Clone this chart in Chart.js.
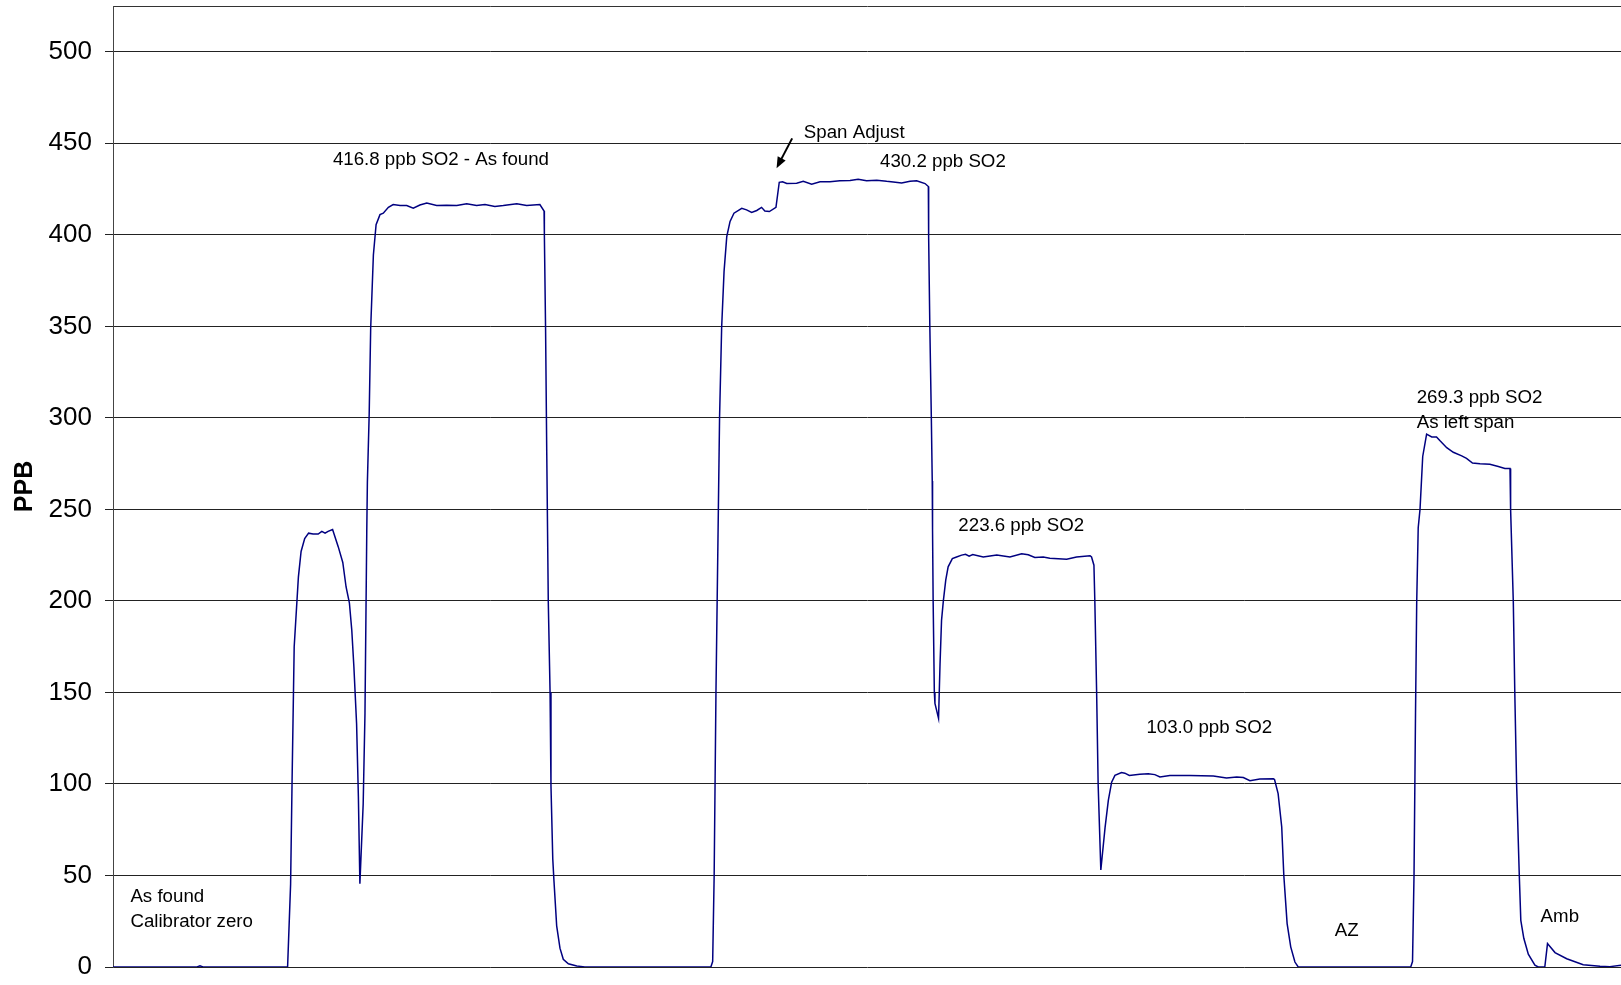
<!DOCTYPE html>
<html>
<head>
<meta charset="utf-8">
<script src="https://cdn.jsdelivr.net/npm/chart.js@4.4.1/dist/chart.umd.min.js"></script>
<style>
  html, body { margin: 0; padding: 0; background: #fff; }
  canvas { display: block; }
</style>
</head>
<body>
<canvas id="so2Chart" width="1621" height="985"></canvas>
<script>
  // time in minutes from start of the calibration run
  const times = [
    0, 28, 29, 30, 58.2,
    59.2, 59.7, 60.4, 61.8, 62.7, 63.9, 65.2, 66.7, 68.4, 69.6, 70.7, 71.7, 73.2, 75.1, 76.6, 77.7, 78.8, 79.6, 80.3, 81.2, 81.8, 82.3,
    83.4, 84.0, 84.6, 84.8, 85.4, 85.9, 86.8, 87.7, 89.0, 90.1, 91.8, 93.4, 95.7, 97.9, 100.1, 102.3, 104.6, 107.9, 111.2, 114.6, 117.9, 121.2, 124, 127.3, 130.1, 134.6, 137.9, 142.3, 143.7,
    143.8, 144.2, 144.6, 145.1, 145.7, 146, 146.6, 147, 147.9, 149, 150.1, 151.8, 154.6, 157.3,
    199.3, 199.9, 200.4, 201, 201.4, 201.8, 202.2, 202.9, 203.7, 204.6, 205.7, 207, 209.6, 211.2, 212.9, 214.6, 216.2, 217.3, 218.8, 221,
    222.1, 223.2, 224.6, 227.9, 230.1, 232.9, 235.7, 239, 242.3, 245.7, 248.4, 251.2, 254.6, 257.9, 260.1, 262.9, 265.7, 267.9, 270.7, 271.8,
    271.9, 272.3, 272.8, 273.1, 273.2, 273.4, 273.8, 274, 275.2,
    275.7, 276.2, 276.8, 277.6, 278.4, 279.8, 281.2, 282.9, 284.2, 285.4, 286.6, 290.1, 294.6, 299, 302.9, 305.1, 307.3, 310.1, 312.3, 317.9, 321.2, 325.7, 326.2, 327,
    327.3, 327.9, 328.4, 329.3,
    330.7, 331.8, 332.9, 334, 336.2, 337.3, 338.8, 342.3, 345.1, 347.3, 349, 352.3, 359, 366.8, 371.2, 374.6, 376.8, 379, 382.3, 386.8, 387.2,
    388.4, 389.6, 390.3, 391.4, 392.6, 394, 395.1,
    432.6, 433.2, 433.7, 434.2, 434.6, 435.1, 435.7, 436.6, 437.9, 439.6, 441.2, 442.3, 444.6, 446.8, 449.6, 451.2, 453.2, 455.7, 459, 461.8, 464, 465.7,
    465.9, 466.8, 467.3, 467.9, 468.8, 469.3, 470.3, 471.8, 474, 475.1, 477.3,
    478.2, 480.7, 484.6, 490.1, 495.7, 499, 502.7
  ];

  const ppb = [
    0, 0, 0.6, 0, 0,
    45, 102, 175, 213, 227, 234, 237, 236.5, 236.5, 238, 237, 238, 239, 229.5, 221, 207.6, 199, 184, 164, 133, 93, 45.5,
    89, 138.6, 238.6, 265, 302, 349, 389, 405.5, 411, 411.8, 415, 416.5, 416, 416, 414.5, 416.3, 417.3, 416, 416.2, 416, 417, 416, 416.5, 415.5, 416, 417, 416, 416.5, 413,
    400, 349, 280, 200, 150, 99, 59, 47, 22.5, 10.3, 4.2, 1.8, 0.6, 0,
    0, 3, 50, 150, 200, 250, 300, 349.5, 380, 399, 407.3, 411.8, 414.5, 413.6, 412.2, 413.3, 415, 413, 412.7, 415,
    428.7, 429, 428, 428.2, 429.3, 427.7, 429, 429, 429.5, 429.7, 430.4, 429.5, 429.8, 429.2, 428.9, 428.3, 429.2, 429.5, 428, 426.4,
    399, 349.5, 299.5, 265.5, 238.6, 200, 150, 144, 135.8,
    165.8, 189.4, 200, 211.3, 218.6, 223.1, 224, 225, 225.5, 224.4, 225.3, 224, 225.1, 224, 225.8, 225.2, 223.7, 224, 223.3, 222.7, 224, 224.7, 224, 219.5,
    200, 150, 100, 53,
    76, 91, 101, 104.7, 106.2, 105.9, 104.6, 105.3, 105.6, 105.1, 103.8, 104.6, 104.6, 104.4, 103.3, 103.8, 103.5, 101.8, 102.7, 102.9, 102.4,
    94.7, 76.5, 50, 23.7, 11, 2.7, 0,
    0, 3, 50, 138.5, 199.5, 240, 250, 278.9, 291.1, 289.6, 289.6, 287.6, 283.7, 281.2, 279.2, 277.9, 275.3, 274.9, 274.6, 273.4, 272.4, 272.4,
    250, 199.5, 149.6, 99.9, 49.8, 25.5, 15.7, 7, 1, 0, 0,
    12.8, 7.9, 4.5, 1.2, 0.4, 0.2, 1.0
  ];

  const yTicks = [0, 50, 100, 150, 200, 250, 300, 350, 400, 450, 500];

  // notes written on the chart: [text, minute, ppb]
  const notes = [
    ['As found', 5.8, 38.2],
    ['Calibrator zero', 5.8, 24.9],
    ['416.8 ppb SO2 - As found', 73.3, 441.1],
    ['Span Adjust', 230.3, 455.8],
    ['430.2 ppb SO2', 255.7, 440],
    ['223.6 ppb SO2', 281.8, 240.9],
    ['103.0 ppb SO2', 344.5, 130.9],
    ['AZ', 407.3, 20],
    ['269.3 ppb SO2', 434.6, 310.9],
    ['As left span', 434.6, 297.3],
    ['Amb', 475.9, 27.3]
  ];
  const arrowFrom = [226.4, 452.7];
  const arrowTo = [221.2, 436.4];

  const notesPlugin = {
    id: 'notes',
    afterDatasetsDraw(chart) {
      const { ctx, scales: { x, y } } = chart;
      ctx.save();
      ctx.fillStyle = '#000';
      ctx.font = '18.7px "Liberation Sans", Arial, sans-serif';
      ctx.textAlign = 'left';
      ctx.textBaseline = 'middle';
      notes.forEach(([txt, t, v]) => {
        ctx.fillText(txt, x.getPixelForValue(t), y.getPixelForValue(v));
      });
      // Span Adjust arrow
      const x1 = x.getPixelForValue(arrowFrom[0]), y1 = y.getPixelForValue(arrowFrom[1]);
      const x2 = x.getPixelForValue(arrowTo[0]), y2 = y.getPixelForValue(arrowTo[1]);
      const ang = Math.atan2(y2 - y1, x2 - x1);
      ctx.strokeStyle = '#000';
      ctx.lineWidth = 2;
      ctx.beginPath();
      ctx.moveTo(x1, y1);
      ctx.lineTo(x2 - 6 * Math.cos(ang), y2 - 6 * Math.sin(ang));
      ctx.stroke();
      ctx.beginPath();
      ctx.moveTo(x2, y2);
      ctx.lineTo(x2 - 11 * Math.cos(ang) + 4.5 * Math.sin(ang), y2 - 11 * Math.sin(ang) - 4.5 * Math.cos(ang));
      ctx.lineTo(x2 - 11 * Math.cos(ang) - 4.5 * Math.sin(ang), y2 - 11 * Math.sin(ang) + 4.5 * Math.cos(ang));
      ctx.closePath();
      ctx.fill();
      ctx.restore();
    }
  };

  const ctx = document.getElementById('so2Chart').getContext('2d');
  new Chart(ctx, {
    type: 'line',
    data: {
      datasets: [{
        label: 'SO2',
        data: times.map((t, i) => ({ x: t, y: ppb[i] })),
        borderColor: '#000080',
        borderWidth: 1.5,
        pointRadius: 0,
        tension: 0,
        fill: false
      }]
    },
    options: {
      responsive: false,
      animation: false,
      layout: { padding: { left: 0, right: 0, top: 6, bottom: 18 } },
      plugins: { legend: { display: false }, tooltip: { enabled: false } },
      scales: {
        x: {
          type: 'linear', position: 'top', min: 0, max: 502.7,
          ticks: { display: false },
          grid: { display: false, drawTicks: false },
          border: { display: true, color: '#333', width: 1 },
          afterFit: s => { s.height = 0; s.paddingLeft = 0; s.paddingRight = 0; }
        },
        y: {
          min: 0, max: 525,
          afterBuildTicks: s => { s.ticks = yTicks.map(v => ({ value: v })); },
          ticks: {
            padding: 13,
            color: '#000',
            font: { family: '"Liberation Sans", Arial, sans-serif', size: 26 }
          },
          grid: { color: '#222', lineWidth: 1, tickLength: 8, drawTicks: true },
          border: { display: true, color: '#444', width: 1 },
          title: {
            display: true, text: 'PPB', color: '#000',
            font: { family: '"Liberation Sans", Arial, sans-serif', size: 25, weight: 'bold' },
            padding: { top: 10, bottom: 0 }
          },
          afterFit: s => { s.width = 113; s.paddingTop = 0; s.paddingBottom = 0; }
        }
      }
    },
    plugins: [notesPlugin]
  });
</script>
</body>
</html>
